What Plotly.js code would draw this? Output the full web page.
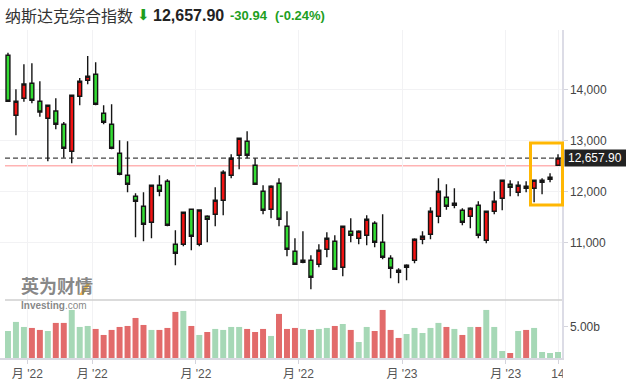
<!DOCTYPE html>
<html><head><meta charset="utf-8">
<script src="https://cdn.plot.ly/plotly-3.0.1.min.js"></script>
<style>html,body{margin:0;padding:0;background:#fff}#chart{width:626px;height:384px}</style>
</head><body><div id="chart"></div>
<script>
const weeks = ['2022-01-17','2022-01-24','2022-01-31','2022-02-07','2022-02-14','2022-02-21','2022-02-28',
'2022-03-07','2022-03-14','2022-03-21','2022-03-28','2022-04-04','2022-04-11','2022-04-18','2022-04-25',
'2022-05-02','2022-05-09','2022-05-16','2022-05-23','2022-05-30','2022-06-06','2022-06-13','2022-06-20','2022-06-27',
'2022-07-04','2022-07-11','2022-07-18','2022-07-25','2022-08-01','2022-08-08','2022-08-15','2022-08-22','2022-08-29',
'2022-09-05','2022-09-12','2022-09-19','2022-09-26','2022-10-03','2022-10-10','2022-10-17','2022-10-24','2022-10-31',
'2022-11-07','2022-11-14','2022-11-21','2022-11-28','2022-12-05','2022-12-12','2022-12-19','2022-12-26',
'2023-01-02','2023-01-09','2023-01-16','2023-01-23','2023-01-30','2023-02-06','2023-02-13','2023-02-20','2023-02-27',
'2023-03-06','2023-03-13','2023-03-20','2023-03-27','2023-04-03','2023-04-10','2023-04-17','2023-04-24',
'2023-05-01','2023-05-08','2023-05-15'];

const openP = [14683,13502,13837,14132,13778,13443,13587,13325,12793,13876,14191,14309,13541,13325,12754,12321,11907,11711,11396,12124,
12203,10963,10963,11652,10963,11514,11553,11829,12321,12715,12990,12518,12006,11652,12163,11317,10825,10648,10648,10569,
10864,11022,10510,11218,11081,11140,11376,11002,10687,10411,10510,10648,11061,11159,11514,11888,11730,11632,11514,11730,
11041,11612,11868,12144,11986,12104,12065,12183,12242,12518];
const highP = [14734,14014,14506,14526,14171,13705,13837,13370,13900,14236,14669,14545,13699,13719,13010,12990,11966,11986,12130,12321,
12242,11238,11600,11663,11652,11533,12085,12419,12734,13055,13187,12655,12124,12124,12262,11612,11081,11218,10746,10963,
11199,11140,11323,11474,11238,11533,11415,11553,10746,10490,10569,11081,11218,11691,12262,12144,12065,11671,11691,11809,
11618,12006,12228,12222,12203,12203,12228,12262,12360,12734];
const lowP = [13769,13108,13770,13738,13474,12596,13226,12667,12557,13699,14112,13699,13325,12833,12321,11986,11100,11022,11081,11907,
11317,10549,10923,10845,10923,11002,11317,11533,12262,12439,12655,12135,11553,11474,11317,10726,10560,10588,10077,10510,
10707,10462,10333,11002,10963,10943,10904,10667,10293,10195,10254,10588,10963,11061,11376,11644,11671,11337,11278,11081,
10982,11553,11632,11907,11907,11986,11789,11947,12183,12510];
const closeP = [13778,13778,14118,13797,13567,13699,13325,12852,13896,14171,14270,13719,13364,12852,12341,12144,11809,11356,12124,12006,
11337,10785,11593,11120,11638,11455,11829,12380,12655,13049,12715,12144,11632,12104,11455,10864,10569,10608,10313,10845,
11081,10470,11317,11140,11218,11455,11002,10707,10490,10451,10549,11061,11120,11612,12006,11711,11770,11396,11671,11140,
11612,11809,12222,12085,12124,12065,12222,12222,12281,12657.90];

const volumeB = [4.35,5.81,5.00,4.84,4.52,4.35,5.65,5.65,7.74,5.00,5.16,4.68,3.71,4.52,5.00,5.16,6.45,5.32,4.52,4.52,
4.84,7.42,7.58,5.16,3.71,4.19,4.68,4.52,5.00,5.00,4.68,4.19,4.68,3.55,7.10,4.68,4.84,4.68,4.52,4.68,
4.84,5.16,5.48,4.52,2.58,5.00,4.35,7.74,4.52,3.23,3.87,4.84,4.03,4.84,5.65,5.00,4.68,3.71,5.00,5.00,
7.74,5.00,1.13,0.81,4.35,4.52,4.84,0.97,0.81,0.97];
const volumeDir = ['g','g','g','r','r','g','r','r','g','g','g','r','r','r','r','r','r','r','g','r',
'r','r','g','r','g','r','g','g','g','g','r','r','r','g','r','r','r','g','r','g',
'g','r','g','r','g','g','r','r','r','r','g','g','g','g','g','r','g','r','g','r',
'g','g','g','r','g','r','g','g','g','g'];

const xTickVals = ['2022-02-03','2022-04-01','2022-07-01','2022-09-29','2022-12-29','2023-03-30','2023-05-15'];
const xTickText = ["月 '22","月 '22","月 '22","月 '22","月 '23","月 '23","14"];
const priceTicks = [11000,12000,13000,14000];
const volTicks = [5];
const volTickText = ['5.00b'];
const lastClose = 12657.90;
const weekOpenLevel = 12510;
const highlightLow = 11736, highlightHigh = 12957;

const PW = 562, T = 30, B = 358, PH = B - T;
const px = x => x / PW;
const py = y => (B - y) / PH;

const RED = '#f21212', GREEN = '#33dd33';
const VRED = '#e26b6b', VGREEN = '#a6d8b6';

const candle = {
  type:'candlestick', x:weeks, open:openP, high:highP, low:lowP, close:closeP,
  xaxis:'x', yaxis:'y', hoverinfo:'skip',
  increasing:{line:{color:'#151515', width:1.4}, fillcolor:RED},
  decreasing:{line:{color:'#151515', width:1.4}, fillcolor:GREEN},
  whiskerwidth:0
};
const vol = {
  type:'bar', x:weeks, y:volumeB, xaxis:'x', yaxis:'y2', hoverinfo:'skip',
  marker:{color:volumeDir.map(d => d === 'r' ? VRED : VGREEN), line:{width:0}}
};

const green = '#1e9e1e';
const layout = {
  width:626, height:384,
  margin:{l:0, r:64, t:T, b:384-B},
  paper_bgcolor:'#fff', plot_bgcolor:'#fff',
  showlegend:false, bargap:0.25,
  font:{family:'Liberation Sans, Arial, Noto Sans CJK SC, sans-serif', size:12, color:'#444'},
  xaxis:{type:'date', range:['2022-01-10','2023-05-18 12:00'], anchor:'y2', rangeslider:{visible:false},
    tickmode:'array', tickvals:xTickVals, ticktext:xTickText, ticks:'outside', ticklen:4, tickcolor:'#d4d4dc',
    showgrid:true, gridcolor:'#f2f2f4', showline:true, linecolor:'#d8d8e0', linewidth:1.5, zeroline:false,
    tickfont:{size:12, color:'#555', family:'Liberation Sans, Noto Sans CJK SC, sans-serif'}, fixedrange:true},
  yaxis:{domain:[0.177,1], range:[9866,15181], side:'right', anchor:'x', tickmode:'array', tickvals:priceTicks,
    tickformat:',.0f', showgrid:true, gridcolor:'#f2f2f4', ticks:'outside', ticklen:4, tickcolor:'#d4d4dc',
    showline:true, linecolor:'#dcdce6', linewidth:1.5, zeroline:false, tickfont:{size:12, color:'#444'}},
  yaxis2:{domain:[0,0.177], range:[0,9.35], side:'right', anchor:'x', tickmode:'array', tickvals:volTicks,
    ticktext:volTickText, showgrid:false, ticks:'outside', ticklen:4, tickcolor:'#d4d4dc',
    showline:true, linecolor:'#dcdce6', linewidth:1.5, zeroline:false, tickfont:{size:12, color:'#444'}},
  shapes:[
    {type:'line', xref:'paper', yref:'paper', x0:px(5), x1:1, y0:0.177, y1:0.177, line:{color:'#cfcfcf', width:1.5}},
    {type:'line', xref:'paper', yref:'y', x0:px(5), x1:1, y0:weekOpenLevel, y1:weekOpenLevel, layer:'below', line:{color:'#ffb3b3', width:1.5}},
    {type:'line', xref:'paper', yref:'y', x0:px(5), x1:1, y0:lastClose, y1:lastClose, layer:'below', line:{color:'#444', width:1.2, dash:'5px,3px'}},
    {type:'rect', xref:'paper', yref:'y', x0:px(530.5), x1:px(562.5), y0:highlightLow, y1:highlightHigh, line:{color:'#FFB703', width:3}},
    {type:'rect', xref:'paper', yref:'paper', x0:px(564.5), x1:px(626), y0:py(166.5), y1:py(149.5), fillcolor:'#222', line:{width:0}},
    {type:'rect', xref:'paper', yref:'paper', x0:px(562.8), x1:px(600), y0:py(384), y1:py(363), fillcolor:'#fff', line:{width:0}},
    {type:'path', xref:'paper', yref:'paper', path:`M ${px(79)} ${py(295)} L ${px(87)} ${py(283)} L ${px(90)} ${py(284)} L ${px(83)} ${py(295)} Z`, fillcolor:'rgba(245,180,40,0.9)', line:{width:0}}
  ],
  annotations:[
    {xref:'paper', yref:'paper', x:px(3), y:py(15), xanchor:'left', yanchor:'middle', showarrow:false,
      text:'纳斯达克综合指数', font:{family:'Noto Sans CJK SC', size:16, color:'#333'}},
    {xref:'paper', yref:'paper', x:px(143), y:py(15), xanchor:'center', yanchor:'middle', showarrow:false,
      text:'⬇', font:{family:'DejaVu Sans', size:15, color:green}},
    {xref:'paper', yref:'paper', x:px(151), y:py(15), xanchor:'left', yanchor:'middle', showarrow:false,
      text:'<b>12,657.90</b>', font:{family:'Liberation Sans', size:16, color:'#222'}},
    {xref:'paper', yref:'paper', x:px(228), y:py(15.5), xanchor:'left', yanchor:'middle', showarrow:false,
      text:'<b>-30.94</b>', font:{family:'Liberation Sans', size:13, color:green}},
    {xref:'paper', yref:'paper', x:px(273), y:py(15.5), xanchor:'left', yanchor:'middle', showarrow:false,
      text:'<b>(-0.24%)</b>', font:{family:'Liberation Sans', size:13, color:green}},
    {xref:'paper', yref:'paper', x:px(595), y:py(158), xanchor:'center', yanchor:'middle', showarrow:false,
      text:'12,657.90', font:{family:'Liberation Sans', size:12, color:'#fff'}},
    {xref:'paper', yref:'paper', x:px(20), y:py(285), xanchor:'left', yanchor:'middle', showarrow:false,
      text:'<b>英为财情</b>', font:{family:'Noto Sans CJK SC', size:18, color:'rgba(115,115,115,0.85)'}, borderpad:0},
    {xref:'paper', yref:'paper', x:px(20), y:py(305), xanchor:'left', yanchor:'middle', showarrow:false,
      text:'<b>Investing</b>.com', font:{family:'Liberation Sans', size:10, color:'rgba(120,120,120,0.9)'}, borderpad:0}
  ]
};

Plotly.newPlot('chart', [vol, candle], layout, {staticPlot:true, displayModeBar:false});
</script>
</body></html>
